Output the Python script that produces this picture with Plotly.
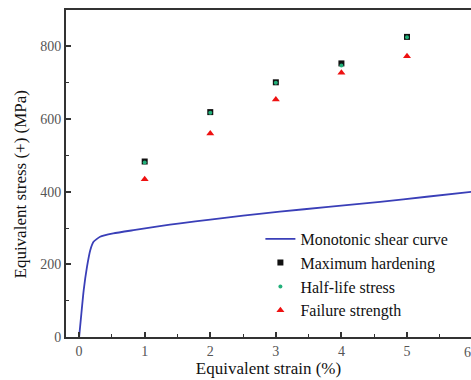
import plotly.graph_objects as go

# Monotonic shear curve
curve_strain = [0, 0.03, 0.07, 0.12, 0.17, 0.22, 0.32, 0.52, 0.83, 1.23, 1.54, 2.0, 2.5, 3.06, 3.8, 4.59, 5.3, 6.0]
curve_stress = [0, 56, 129, 193, 239, 262, 276, 285, 294, 305, 313, 323, 334, 345, 358, 372, 386, 400]

# Discrete points
pt_strain = [1, 2, 3, 4, 5]
max_hardening = [483, 619, 701, 753, 826]
half_life = [480, 617, 700, 747, 825]
failure = [434, 560, 654, 727, 773]

x_title = "Equivalent strain (%)"
y_title = "Equivalent stress (+) (MPa)"

FONT = "Liberation Serif"
AX = "#333333"

fig = go.Figure()
fig.add_trace(go.Scatter(x=curve_strain, y=curve_stress, mode="lines",
                         line=dict(color="#3a3fb8", width=1.8, shape="spline", smoothing=0.5),
                         name="Monotonic shear curve"))
fig.add_trace(go.Scatter(x=pt_strain, y=max_hardening, mode="markers",
                         marker=dict(symbol="square", size=6, color="#111111"),
                         name="Maximum hardening"))
fig.add_trace(go.Scatter(x=pt_strain, y=half_life, mode="markers",
                         marker=dict(symbol="circle", size=4, color="#22b07a"),
                         name="Half-life stress"))
fig.add_trace(go.Scatter(x=pt_strain, y=failure, mode="markers",
                         marker=dict(symbol="triangle-up", size=7, color="#ee1111"),
                         name="Failure strength"))

fig.update_layout(
    width=471, height=380,
    margin=dict(l=66, r=0, t=10, b=43),
    paper_bgcolor="white", plot_bgcolor="white",
    font=dict(family=FONT, size=14, color="#222222"),
    showlegend=True,
    legend=dict(x=0.48, y=0.352, xanchor="left", yanchor="top",
                bgcolor="rgba(0,0,0,0)", font=dict(family=FONT, size=16, color="#111111"),
                tracegroupgap=0, itemsizing="trace"),
    xaxis=dict(range=[-0.2, 5.976], dtick=1, tick0=0, showgrid=False, zeroline=False,
               showline=True, linecolor=AX, linewidth=2, mirror=True,
               ticks="inside", ticklen=5, tickwidth=1.5, tickcolor=AX,
               minor=dict(dtick=0.5, ticks="inside", ticklen=3, tickwidth=1.2, tickcolor=AX),
               tickfont=dict(family=FONT, size=14, color="#555555"),
               title=dict(text=x_title, font=dict(family=FONT, size=17, color="#111111"), standoff=4)),
    yaxis=dict(range=[0, 900], dtick=200, tick0=0, showgrid=False, zeroline=False,
               showline=True, linecolor=AX, linewidth=2,
               ticks="inside", ticklen=5, tickwidth=1.5, tickcolor=AX,
               minor=dict(dtick=100, ticks="inside", ticklen=3, tickwidth=1.2, tickcolor=AX),
               tickfont=dict(family=FONT, size=14, color="#555555")),
)
# y-axis title (placed as annotation to match the original offset)
fig.add_annotation(text=y_title, xref="paper", yref="paper",
                   x=(20 - 66) / 405, y=(337 - 184.5) / 327, xanchor="center", yanchor="middle",
                   textangle=-90, showarrow=False,
                   font=dict(family=FONT, size=17, color="#111111"))
# partially visible "6" tick label at the clipped right edge
fig.add_annotation(text="6", xref="paper", yref="paper", x=(472.6 - 66) / 405, y=0,
                   yanchor="top", yshift=-6, showarrow=False,
                   font=dict(family=FONT, size=14, color="#555555"))
fig.write_html("out.html")
